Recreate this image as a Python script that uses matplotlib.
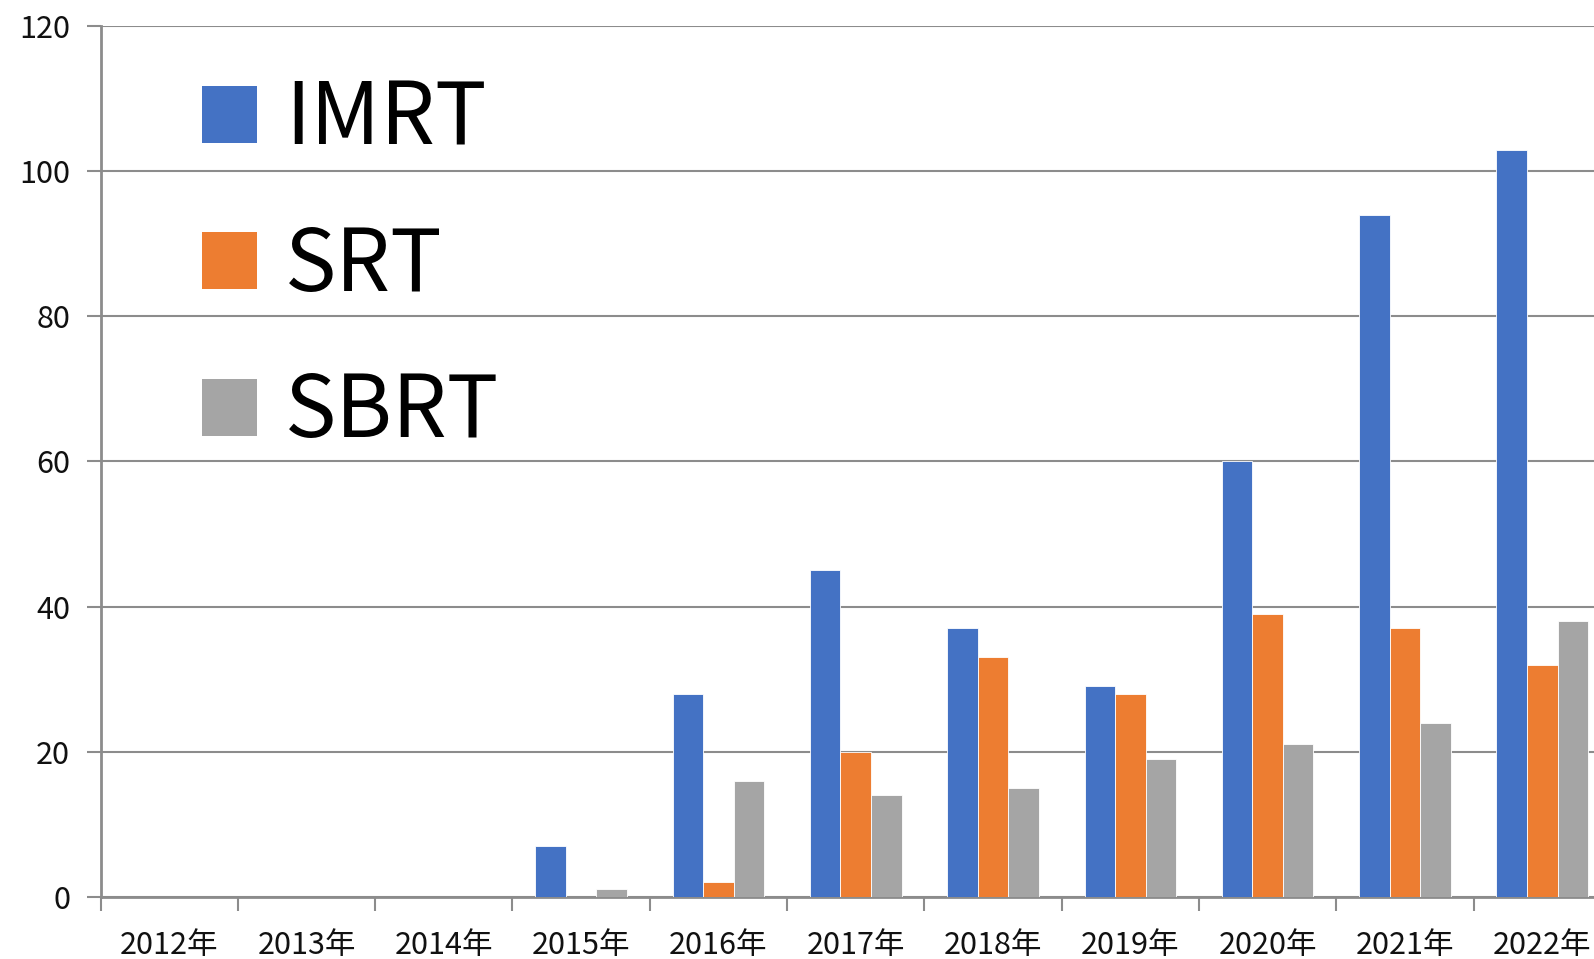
import numpy as np
import matplotlib.pyplot as plt
from matplotlib.patches import Patch

plt.rcParams['font.family'] = ['Noto Sans CJK JP', 'DejaVu Sans']

# -------------------------------
# data
years = ['2012年', '2013年', '2014年', '2015年', '2016年', '2017年',
         '2018年', '2019年', '2020年', '2021年', '2022年']
imrt = [0, 0, 0, 7, 28, 45, 37, 29, 60, 94, 103]
srt = [0, 0, 0, 0, 2, 20, 33, 28, 39, 37, 32]
sbrt = [0, 0, 0, 1, 16, 14, 15, 19, 21, 24, 38]
series = ['IMRT', 'SRT', 'SBRT']
colors = ['#4472C4', '#ED7D31', '#A5A5A5']
grid_col = '#8C8C8C'

# -------------------------------
fig = plt.figure(figsize=(15.94, 9.59), dpi=100)
ax = fig.add_axes([0.0631, 0.0651, 0.9475, 0.9074])

x = np.arange(len(years))
w = 1 / 4.5
for i, (vals, c) in enumerate(zip([imrt, srt, sbrt], colors)):
    ax.bar(x + (i - 1) * w, vals, width=w, color=c,
           edgecolor='white', linewidth=0.6, zorder=3)

ax.set_xlim(-0.5, len(years) - 0.5)
ax.set_ylim(0, 120)
ax.set_yticks(range(0, 121, 20))
ax.yaxis.grid(True, color=grid_col, linewidth=1.5, zorder=0)
ax.set_axisbelow(True)

# category labels at centres, tick marks at boundaries
ax.set_xticks(x)
ax.set_xticklabels(years)
ax.set_xticks(np.arange(-0.5, len(years), 1), minor=True)
ax.tick_params(axis='x', which='major', length=0, pad=24, labelsize=22, colors='#111111')
ax.tick_params(axis='x', which='minor', length=10, width=1.5, color=grid_col)
ax.tick_params(axis='y', length=10, width=1.5, color=grid_col, pad=12,
               labelsize=22, labelcolor='#111111')

for s in ['top', 'right']:
    ax.spines[s].set_visible(False)
for s in ['left', 'bottom']:
    ax.spines[s].set_color(grid_col)
    ax.spines[s].set_linewidth(2)

handles = [Patch(facecolor=c) for c in colors]
ax.legend(handles, series, loc='upper left', bbox_to_anchor=(0.0445, 0.982),
          frameon=False, fontsize=62, handlelength=0.64, handleheight=0.64,
          handletextpad=0.32, labelspacing=0.67, borderaxespad=0)

fig.savefig('out.png', dpi=100)
